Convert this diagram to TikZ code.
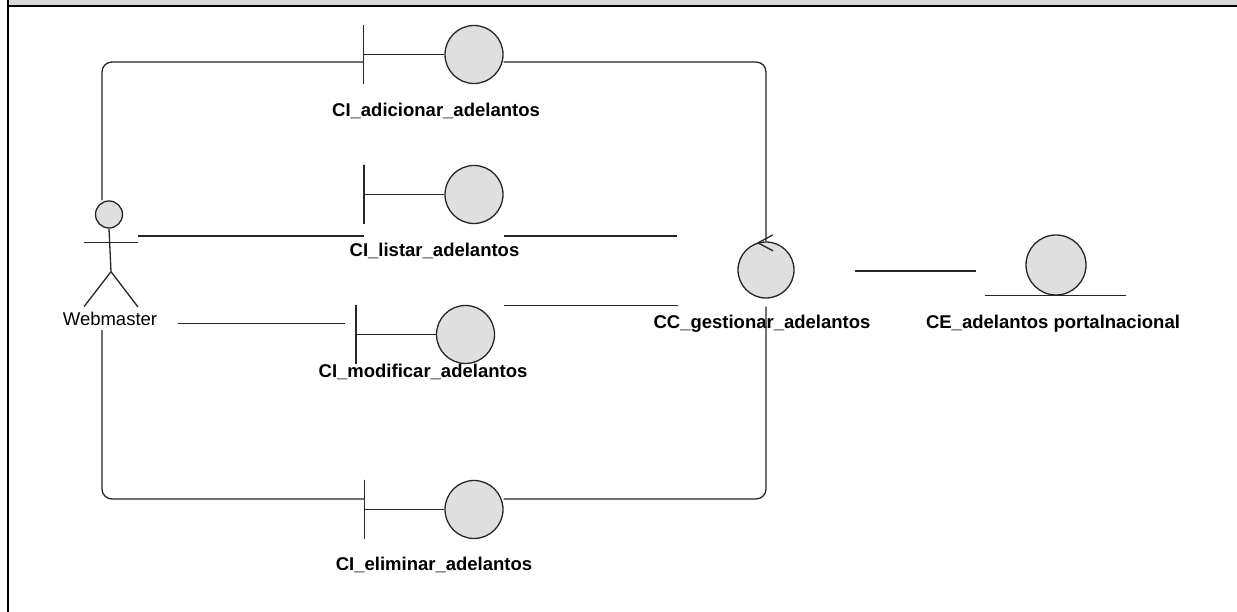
\documentclass[tikz,border=0pt]{standalone}
\usepackage{fontspec}
\setmainfont{Liberation Sans}
\usetikzlibrary{positioning,calc}
\tikzset{
  umlline/.style={line width=1.3pt,draw=black!85},
  link/.style={line width=1.3pt,draw=black!85,rounded corners=10pt},
  ballbox/.style={circle,draw=black!85,line width=1.3pt,fill=gray!25,
    minimum size=58pt,inner sep=0pt},
  ctrlbox/.style={ballbox,minimum size=56pt},
  barbox/.style={rectangle,draw=black!85,line width=1.3pt,
    minimum width=0pt,minimum height=59pt,inner sep=0pt},
  namelbl/.style={font=\fontsize{18.5}{20}\selectfont\bfseries,anchor=base,inner sep=0pt},
  actorlbl/.style={font=\fontsize{18.5}{20}\selectfont,anchor=base,inner sep=0pt},
}

\begin{document}
\begin{tikzpicture}[x=1pt,y=1pt]
  \useasboundingbox (0,0) rectangle (1237,612);
  % frame
  \fill[gray!30] (9,607) rectangle (1237,612);
  \draw[line width=2pt] (9,606.3) -- (1237,606.3);
  \draw[line width=2.2pt] (8,0) -- (8,612);

  % actor
  \node[ballbox,minimum size=27pt] (head) at (109,397.5) {};
  \coordinate (hip)  at (111,340.3);
  \coordinate (armL) at (84,369.3);
  \coordinate (armR) at (138,369.3);
  \draw[umlline] (head.south) -- (hip) -- (84,305.3) (hip) -- (138,305);
  \draw[umlline] (armL) -- (armR);
  \node[actorlbl] (webmaster) at (110,286.3) {Webmaster};

  % boundaries
  \node[ballbox] (adicionar) at (474,557.5) {};
  \node[barbox]  (adicionar-bar) at (363.5,557.5) {};
  \draw[umlline] (adicionar-bar) -- (adicionar);
  \node[namelbl] (adicionar-lbl) at (436,495) {CI\_adicionar\_adelantos};

  \node[ballbox] (listar) at (474,417.5) {};
  \node[barbox]  (listar-bar) at (364,417.5) {};
  \draw[umlline] (listar-bar) -- (listar);
  \node[namelbl] (listar-lbl) at (434.5,355.3) {CI\_listar\_adelantos};

  \node[ballbox] (modificar) at (465.5,277.5) {};
  \node[barbox]  (modificar-bar) at (356,277.5) {};
  \draw[umlline] (modificar-bar) -- (modificar);
  \node[namelbl] (modificar-lbl) at (423,234) {CI\_modificar\_adelantos};

  \node[ballbox] (eliminar) at (474,102.5) {};
  \node[barbox]  (eliminar-bar) at (364.3,102.5) {};
  \draw[umlline] (eliminar-bar) -- (eliminar);
  \node[namelbl] (eliminar-lbl) at (434,41.3) {CI\_eliminar\_adelantos};

  % control
  \node[ctrlbox] (gestionar) at (766,342) {};
  \draw[umlline] ($(gestionar.north)+(7,6.5)$) -- ($(gestionar.north)+(-8,-1.5)$)
    -- ($(gestionar.north)+(7,-9.5)$);
  \node[namelbl] (gestionar-lbl) at (762,283) {CC\_gestionar\_adelantos};

  % entity
  \node[ballbox,minimum size=60pt] (portal) at (1056,347) {};
  \draw[umlline] ($(portal.south)+(-71,0)$) -- ($(portal.south)+(70,0)$);
  \node[namelbl] (portal-lbl) at (1053,283) {CE\_adelantos portalnacional};

  % links
  \coordinate (topleft)  at (102,550);
  \coordinate (topright) at (766,550);
  \draw[link] ([xshift=-7pt]head.north) -- (topleft) -- (topleft -| adicionar-bar);
  \draw[link] (topleft -| adicionar.east) -- (topright) -- (gestionar.north);

  \coordinate (botleft)  at (102,113);
  \coordinate (botright) at (766,113);
  \draw[link] ([xshift=-8pt,yshift=-4pt]webmaster.south) -- (botleft) -- (botleft -| eliminar-bar);
  \draw[link] (botleft -| eliminar.east) -- (botright) -- ([yshift=-8pt]gestionar.south);

  \coordinate (listar-in) at (138,376);
  \draw[umlline] (listar-in) -- (listar-in -| listar-bar);
  \draw[umlline,shorten >=60pt] (listar-in -| listar.east) -- (listar-in -| gestionar.west);

  \coordinate (modificar-in)  at (178,288.7);
  \coordinate (modificar-out) at (504,306.3);
  \draw[umlline,shorten >=11pt] (modificar-in) -- (modificar-in -| modificar-bar);
  \draw[umlline,shorten >=59pt] (modificar-out) -- (modificar-out -| gestionar.west);

  \coordinate (ctrl-out) at (794,341);
  \draw[umlline,shorten <=61pt,shorten >=49pt] (ctrl-out) -- (ctrl-out -| portal.west);
\end{tikzpicture}
\end{document}
